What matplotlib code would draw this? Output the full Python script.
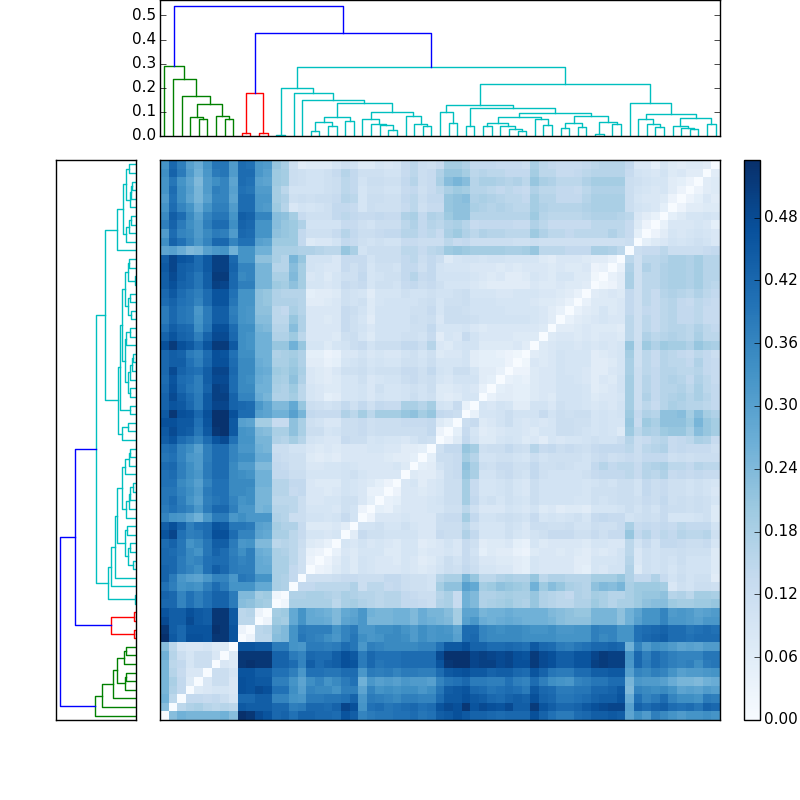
#!/usr/bin/env python3

import numpy as np
import matplotlib
matplotlib.use('Agg')
import matplotlib.pyplot as plt

plt.style.use('classic')
plt.rcParams['font.size'] = 11
plt.rcParams['ytick.major.pad'] = 3

N_LEAVES = 65

# linkage: child ids below 65 are leaves, merge k gets the id 65 + k
link_a = [4, 3, 7, 6, 66, 2, 1, 0,
          9, 11, 73,
          13, 17, 19, 77, 21, 79, 26, 25, 24, 23, 30, 29, 28, 85, 81, 16, 15, 76,
          33, 32, 35, 37, 41, 40, 39, 97, 44, 43, 101, 46, 48, 105, 50, 52, 108,
          107, 104, 96, 95, 57, 56, 55, 61, 60, 59, 63, 120, 117, 54, 114, 93,
          75, 72]
link_b = [5, 65, 8, 67, 68, 69, 70, 71,
          10, 12, 74,
          14, 18, 20, 78, 22, 80, 27, 82, 83, 84, 31, 86, 87, 88, 89, 90, 91, 92,
          34, 94, 36, 38, 42, 98, 99, 100, 45, 102, 103, 47, 49, 106, 51, 53, 109,
          110, 111, 112, 113, 58, 115, 116, 62, 118, 119, 64, 121, 122, 123, 124, 125,
          126, 127]
link_h = [.069, .0785, .072, .083, .134, .165, .238, .292,
          .011, .012, .178,
          .0055, .021, .04, .058, .063, .08, .023, .044, .051, .069, .04, .05, .081,
          .098, .135, .151, .179, .197,
          .055, .098, .043, .043, .022, .03, .043, .055, .045, .07, .077, .034, .039,
          .055, .01, .048, .058, .081, .096, .116, .129, .036, .051, .069, .028, .034,
          .043, .051, .073, .09, .135, .216, .285,
          .427, .537]
link_color = ['g'] * 8 + ['r'] * 3 + ['c'] * 51 + ['b'] * 2

# distances in hundredths, rows 1 to 32 (row i has the columns 0 to i-1)
rows_low = [
    [23],
    [26, 15],
    [25, 17, 14],
    [25, 18, 14, 7],
    [25, 16, 13, 8, 8],
    [25, 15, 14, 9, 12, 12],
    [26, 16, 12, 9, 12, 12, 8],
    [23, 15, 9, 8, 8, 9, 7, 7],
    [53.5, 45, 42, 47, 47, 46, 52, 52, 46],
    [52, 44, 42, 46, 46, 46, 53, 52, 46, 3],
    [48, 44, 44, 48, 45, 44, 52, 52, 45, 15, 15],
    [46, 44, 44, 47, 45, 44, 52, 52, 45, 15, 16, 3],
    [42, 42, 36, 40, 37, 40, 43, 43, 38, 23, 22, 20, 19],
    [43, 42, 36, 40, 37, 40, 43, 43, 38, 24, 24, 19, 20, 2],
    [40, 37, 33, 34, 33, 37, 41, 38, 33, 33, 33, 28, 28, 18, 17],
    [43, 38, 32, 30, 29, 32, 36, 36, 32, 39, 38, 33, 33, 18, 17, 14],
    [43, 42, 38, 36, 34, 40, 44, 42, 38, 37, 37, 28, 28, 18, 18, 14, 11],
    [42, 42, 38, 35, 36, 40, 41, 41, 38, 36, 37, 28, 27, 18, 18, 15, 11, 3],
    [42, 41, 39, 35, 33, 39, 43, 41, 37, 34, 37, 27, 26, 18, 17, 15, 11, 4, 3],
    [41, 43, 39, 33, 35, 39, 44, 44, 38, 32, 33, 24, 24, 15, 16, 15, 12, 7, 6, 4],
    [46, 49, 40, 37, 38, 41, 47, 47, 41, 36, 36, 29, 28, 18, 18, 15, 13, 9, 9, 8, 9],
    [44, 47, 43, 37, 40, 41, 46, 45, 39, 39, 38, 30, 29, 19, 17, 17, 13, 7, 7, 7, 8, 6],
    [36, 33, 32, 29, 26, 32, 38, 38, 32, 34, 32, 32, 32, 17, 16, 12, 12, 10, 10, 9, 10, 13, 10],
    [38, 40, 38, 36, 32, 38, 42, 42, 37, 32, 32, 25, 26, 16, 16, 15, 12, 9, 9, 9, 8, 11, 10, 3],
    [39, 41, 37, 33, 30, 37, 39, 40, 36, 33, 34, 25, 25, 15, 15, 15, 12, 8, 8, 9, 9, 11, 11, 8, 5],
    [39, 39, 36, 34, 31, 38, 40, 40, 35, 35, 34, 25, 25, 16, 16, 13, 14, 8, 8, 7, 8, 10, 9, 8, 4, 4],
    [40, 40, 35, 33, 30, 36, 40, 40, 35, 35, 35, 26, 26, 16, 16, 14, 14, 8, 7, 7, 7, 10, 9, 8, 7, 5, 3],
    [40, 41, 37, 34, 32, 38, 41, 41, 35, 34, 33, 26, 26, 14, 14, 12, 12, 9, 9, 9, 9, 10, 11, 9, 8, 8, 8, 8],
    [41, 42, 37, 34, 31, 38, 41, 41, 35, 31, 31, 24, 24, 14, 13, 11, 11, 8, 8, 9, 9, 10, 9, 8, 8, 8, 8, 9, 7],
    [39, 40, 36, 32, 31, 37, 41, 41, 36, 34, 34, 27, 27, 13, 12, 11, 11, 7, 6, 7, 6, 8, 8, 8, 8, 8, 7, 6, 6, 5],
    [40, 41, 36, 34, 30, 37, 41, 41, 36, 32, 32, 26, 25, 12, 12, 10, 10, 8, 7, 8, 7, 8, 8, 8, 9, 9, 8, 8, 6, 6, 5],
    [44, 46, 41, 39, 36, 41, 46, 48, 40, 33, 33, 25, 25, 17, 16, 19, 16, 10, 9, 8, 8, 13, 12, 12, 9, 10, 9, 9, 8, 10, 12, 11],
]

# rows 33 to 64, columns 0 to 32
rows_high_left = [
    [45, 48, 45, 44, 39, 45, 52, 53, 45, 33, 32, 24, 23, 18, 18, 22, 18, 12, 12, 9, 10, 12, 12, 13, 11, 12, 12, 12, 12, 12, 12, 14, 3],
    [47, 47, 45, 45, 40, 46, 53, 53, 45, 30, 29, 19, 19, 13, 13, 22, 18, 11, 10, 8, 8, 12, 12, 13, 11, 12, 12, 12, 13, 13, 13, 14, 7],
    [45, 52, 47, 46, 42, 47, 53, 53, 47, 41, 41, 30, 29, 26, 26, 30, 25, 14, 13, 13, 13, 17, 15, 19, 15, 19, 19, 19, 21, 22, 19, 21, 14],
    [43, 46, 45, 42, 38, 45, 49, 49, 43, 42, 41, 32, 29, 24, 24, 28, 21, 12, 11, 10, 11, 14, 11, 14, 11, 14, 13, 13, 18, 18, 16, 19, 10],
    [43, 48, 44, 41, 38, 45, 50, 50, 43, 36, 36, 27, 25, 17, 17, 19, 15, 9, 8, 5, 6, 9, 9, 10, 8, 10, 9, 9, 10, 12, 10, 11, 7],
    [42, 47, 42, 39, 37, 43, 50, 49, 41, 35, 35, 26, 26, 18, 17, 20, 15, 9, 8, 7, 7, 9, 9, 10, 8, 11, 9, 9, 10, 11, 10, 12, 7],
    [41, 46, 41, 40, 37, 44, 48, 48, 41, 35, 34, 27, 26, 19, 18, 22, 17, 8, 7, 6, 7, 9, 9, 11, 8, 9, 10, 10, 12, 13, 11, 12, 9],
    [42, 48, 43, 41, 40, 44, 49, 49, 42, 35, 35, 28, 27, 20, 19, 21, 18, 8, 7, 6, 8, 11, 11, 12, 10, 11, 11, 11, 13, 13, 11, 14, 10],
    [42, 44, 44, 40, 37, 42, 47, 47, 41, 35, 35, 27, 26, 18, 18, 20, 17, 6, 6, 4, 5, 9, 10, 11, 9, 10, 9, 9, 11, 11, 10, 12, 9],
    [42, 44, 43, 38, 36, 41, 47, 46, 40, 34, 34, 26, 26, 17, 18, 19, 17, 5, 5, 3, 4, 8, 8, 10, 8, 9, 8, 8, 10, 11, 9, 11, 7],
    [47, 51, 47, 45, 41, 46, 51, 51, 45, 34, 33, 26, 26, 21, 21, 26, 21, 9, 9, 7, 9, 10, 12, 13, 10, 12, 12, 12, 14, 14, 12, 16, 8],
    [43, 46, 43, 42, 37, 43, 48, 48, 42, 34, 33, 26, 26, 17, 17, 20, 15, 8, 8, 8, 7, 11, 12, 9, 7, 10, 10, 10, 11, 11, 10, 13, 6],
    [40, 44, 42, 41, 34, 39, 47, 47, 41, 34, 34, 25, 24, 16, 16, 23, 17, 8, 8, 8, 8, 13, 11, 10, 8, 10, 10, 10, 10, 11, 11, 14, 9],
    [38, 42, 39, 38, 33, 38, 44, 44, 38, 33, 32, 23, 23, 15, 15, 21, 17, 8, 8, 7, 8, 13, 11, 9, 6, 10, 10, 10, 10, 12, 11, 12, 8],
    [38, 42, 39, 38, 32, 38, 44, 44, 37, 33, 32, 22, 22, 15, 14, 18, 16, 8, 8, 8, 8, 13, 12, 10, 7, 10, 10, 10, 10, 11, 11, 13, 9],
    [41, 43, 40, 39, 36, 41, 46, 46, 39, 33, 33, 22, 21, 17, 17, 17, 16, 6, 6, 7, 8, 11, 10, 11, 7, 9, 10, 10, 10, 10, 11, 12, 9],
    [42, 45, 41, 39, 37, 41, 46, 46, 40, 33, 33, 22, 21, 17, 16, 16, 16, 5, 6, 6, 7, 11, 10, 9, 6, 9, 9, 9, 11, 10, 10, 11, 10],
    [44, 47, 43, 42, 39, 44, 50, 49, 42, 37, 37, 25, 25, 20, 19, 22, 19, 9, 9, 8, 9, 13, 12, 13, 9, 11, 11, 10, 13, 14, 12, 13, 11],
    [44, 48, 44, 42, 39, 44, 51, 51, 42, 35, 36, 25, 25, 18, 18, 24, 19, 8, 9, 7, 9, 11, 11, 14, 9, 10, 11, 11, 14, 16, 13, 14, 10],
    [45, 49, 44, 43, 41, 45, 50, 50, 43, 36, 36, 25, 25, 16, 16, 23, 19, 10, 9, 8, 8, 13, 11, 13, 9, 11, 11, 10, 14, 14, 11, 14, 10],
    [44, 49, 46, 45, 41, 45, 50, 50, 42, 33, 33, 22, 22, 18, 16, 25, 21, 10, 10, 10, 8, 13, 13, 13, 10, 12, 12, 12, 14, 15, 12, 14, 12],
    [29, 30, 27, 24, 25, 30, 32, 33, 26, 33, 33, 26, 26, 18, 18, 18, 17, 17, 16, 15, 15, 21, 18, 10, 12, 12, 12, 12, 15, 15, 13, 15, 16],
    [34, 43, 40, 36, 32, 36, 42, 42, 36, 40, 40, 30, 29, 20, 20, 20, 14, 7, 8, 8, 10, 14, 13, 11, 10, 11, 10, 10, 13, 13, 12, 12, 12],
    [31, 41, 36, 35, 31, 35, 38, 37, 31, 42, 41, 33, 33, 22, 21, 20, 14, 11, 11, 11, 13, 16, 14, 12, 12, 13, 14, 14, 16, 16, 14, 15, 13],
    [37, 43, 38, 34, 31, 37, 41, 41, 34, 43, 42, 33, 33, 23, 21, 20, 17, 10, 10, 10, 10, 13, 13, 11, 10, 12, 12, 12, 15, 17, 14, 16, 15],
    [35, 44, 41, 35, 30, 36, 39, 39, 33, 44, 43, 36, 36, 23, 22, 19, 13, 11, 11, 11, 14, 15, 14, 13, 13, 14, 13, 13, 17, 18, 14, 17, 16],
    [33, 41, 36, 33, 27, 33, 37, 37, 31, 41, 41, 32, 31, 20, 16, 8, 10, 9, 10, 11, 14, 14, 13, 9, 12, 11, 11, 11, 13, 15, 11, 13, 13],
    [31, 40, 34, 29, 25, 30, 36, 36, 29, 41, 41, 32, 32, 19, 17, 11, 12, 11, 12, 12, 13, 16, 15, 9, 12, 12, 11, 11, 14, 15, 12, 14, 14],
    [33, 41, 34, 30, 25, 31, 37, 36, 30, 40, 39, 31, 31, 19, 15, 10, 10, 10, 10, 11, 12, 15, 14, 9, 11, 11, 10, 10, 13, 14, 11, 13, 15],
    [33, 39, 33, 29, 24, 31, 34, 36, 29, 41, 40, 30, 29, 20, 19, 12, 11, 10, 10, 11, 12, 15, 14, 10, 12, 12, 11, 11, 14, 16, 12, 13, 18],
    [34, 43, 38, 31, 26, 32, 38, 39, 31, 41, 41, 32, 30, 20, 19, 12, 11, 10, 10, 11, 13, 16, 14, 11, 11, 11, 10, 10, 13, 15, 12, 13, 17],
    [33, 42, 37, 30, 27, 33, 39, 39, 31, 41, 40, 32, 31, 21, 18, 11, 6, 7, 7, 7, 9, 11, 10, 7, 7, 9, 8, 9, 13, 15, 12, 11, 13],
]

# rows 34 to 64, columns 33 to i-1
rows_high_right = [
    [5],
    [13, 12],
    [9, 13, 4],
    [6, 7, 9, 9],
    [7, 8, 9, 8, 4],
    [8, 10, 10, 10, 6, 5],
    [9, 12, 12, 9, 6, 6, 4],
    [9, 9, 10, 6, 5, 5, 5, 3],
    [8, 8, 10, 6, 5, 5, 4, 3, 2],
    [7, 9, 10, 10, 7, 7, 7, 7, 8, 6],
    [9, 8, 13, 10, 8, 8, 8, 8, 7, 7, 7],
    [9, 9, 10, 8, 7, 8, 8, 8, 8, 8, 8, 7],
    [12, 12, 12, 11, 10, 10, 10, 10, 10, 10, 9, 8, 6],
    [12, 12, 11, 10, 10, 10, 10, 9, 9, 9, 9, 8, 6, 4],
    [11, 11, 12, 10, 10, 10, 9, 9, 9, 9, 8, 7, 7, 6, 4],
    [10, 11, 12, 9, 9, 9, 8, 8, 9, 9, 9, 8, 8, 7, 6, 4],
    [9, 9, 9, 8, 7, 6, 6, 6, 6, 6, 8, 7, 7, 8, 7, 7, 6],
    [10, 10, 10, 9, 8, 7, 8, 6, 6, 7, 9, 8, 7, 9, 9, 7, 7, 2],
    [9, 9, 9, 8, 8, 8, 7, 8, 7, 8, 8, 8, 7, 8, 7, 7, 8, 3, 4],
    [7, 9, 10, 10, 9, 10, 10, 9, 9, 9, 9, 7, 6, 8, 8, 8, 7, 6, 6, 4],
    [20, 21, 20, 19, 19, 19, 19, 18, 18, 19, 21, 15, 15, 15, 14, 14, 14, 18, 18, 17, 15],
    [15, 13, 14, 12, 12, 12, 12, 12, 11, 11, 12, 11, 11, 11, 11, 11, 11, 11, 11, 11, 11, 12],
    [18, 20, 17, 15, 17, 16, 16, 15, 15, 15, 20, 17, 15, 15, 14, 15, 15, 15, 15, 17, 15, 13, 5],
    [17, 18, 16, 13, 14, 14, 14, 14, 13, 13, 17, 15, 13, 13, 13, 13, 13, 15, 15, 15, 15, 13, 7, 3],
    [20, 22, 22, 16, 16, 16, 16, 16, 16, 16, 20, 16, 15, 15, 15, 15, 16, 17, 17, 17, 16, 15, 8, 6, 4],
    [21, 22, 22, 18, 17, 16, 17, 16, 15, 15, 19, 17, 16, 16, 16, 16, 17, 18, 18, 18, 18, 12, 10, 9, 8, 5],
    [21, 22, 23, 17, 18, 17, 16, 15, 15, 14, 19, 16, 16, 14, 14, 14, 16, 18, 18, 18, 18, 12, 9, 8, 8, 7, 3],
    [18, 20, 19, 16, 16, 15, 14, 15, 14, 13, 17, 15, 15, 14, 14, 13, 15, 17, 17, 17, 17, 12, 10, 9, 8, 9, 6, 3],
    [23, 25, 23, 16, 18, 18, 17, 16, 17, 15, 21, 18, 17, 15, 15, 15, 17, 19, 19, 19, 19, 12, 11, 10, 9, 9, 6, 5, 3],
    [21, 21, 19, 15, 16, 15, 15, 14, 14, 14, 19, 15, 15, 13, 13, 14, 15, 16, 16, 16, 16, 13, 10, 9, 8, 10, 7, 8, 6, 6],
    [19, 19, 17, 14, 14, 14, 13, 13, 13, 12, 18, 15, 14, 13, 13, 13, 14, 15, 16, 16, 16, 14, 8, 8, 5, 9, 7, 6, 7, 7, 6],
]

tick_levels = [0.00, 0.06, 0.12, 0.18, 0.24, 0.30, 0.36, 0.42, 0.48]
dendro_ticks = [0.0, 0.1, 0.2, 0.3, 0.4, 0.5]


def build_matrix():
    D = np.zeros((N_LEAVES, N_LEAVES))
    for k, row in enumerate(rows_low):
        D[k + 1, :len(row)] = row
    for k, row in enumerate(rows_high_left):
        D[k + 33, :33] = row
    for k, row in enumerate(rows_high_right):
        D[k + 34, 33:33 + len(row)] = row
    D = (D + D.T) / 100.0
    return D


def draw_dendrogram(ax, horizontal):
    # leaf i sits at i + 0.5, each merge sits midway between its children
    pos = {i: i + 0.5 for i in range(N_LEAVES)}
    height = {i: 0.0 for i in range(N_LEAVES)}
    for k in range(len(link_a)):
        a, b, h = link_a[k], link_b[k], link_h[k]
        p = [pos[a], pos[a], pos[b], pos[b]]
        d = [height[a], h, h, height[b]]
        if horizontal:
            ax.plot(d, p, color=link_color[k], lw=1)
        else:
            ax.plot(p, d, color=link_color[k], lw=1)
        pos[65 + k] = (pos[a] + pos[b]) / 2
        height[65 + k] = h


D = build_matrix()
top_h = max(link_h) * 1.05

fig = plt.figure(figsize=(8, 8), dpi=100)
fig.patch.set_facecolor('white')

ax_top = fig.add_axes([0.2, 0.83, 0.7, 0.17])
draw_dendrogram(ax_top, False)
ax_top.set_xlim(0, N_LEAVES)
ax_top.set_ylim(0, top_h)
ax_top.set_xticks([])
ax_top.set_yticks(dendro_ticks)

ax_left = fig.add_axes([0.07, 0.1, 0.1, 0.7])
draw_dendrogram(ax_left, True)
ax_left.set_xlim(top_h, 0)
ax_left.set_ylim(0, N_LEAVES)
ax_left.set_xticks([])
ax_left.set_yticks([])

ax = fig.add_axes([0.2, 0.1, 0.7, 0.7])
im = ax.imshow(D, cmap='Blues', aspect='auto', origin='lower',
               interpolation='nearest', vmin=0, vmax=D.max())
ax.set_xticks([])
ax.set_yticks([])

cax = fig.add_axes([0.93, 0.1, 0.02, 0.7])
cb = fig.colorbar(im, cax=cax, ticks=tick_levels, format='%.2f')

fig.savefig('out.png', dpi=100, facecolor='white')
